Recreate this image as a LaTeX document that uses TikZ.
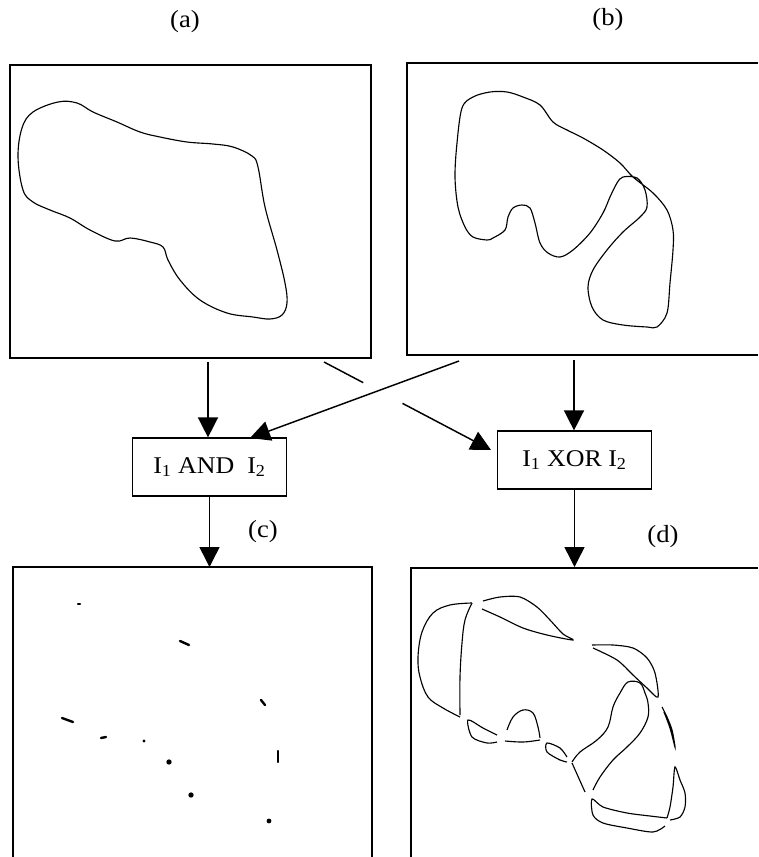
\documentclass[tikz,border=0pt]{standalone}
\usepackage{fontspec}
\setmainfont{Liberation Serif}[FakeStretch=1.08]
\usetikzlibrary{arrows.meta,positioning,calc}

\begin{document}
\begin{tikzpicture}[
        x=0.75pt, y=-0.75pt,
        frame/.style={line width=0.9pt},
        contour/.style={line width=0.85pt},
        opbox/.style={draw, rectangle, line width=0.9pt, minimum width=116pt, minimum height=43.5pt, inner sep=0pt, font=\fontsize{18}{21}\selectfont},
        tag/.style={inner sep=0pt, font=\fontsize{18.5}{21}\selectfont},
        arrow/.style={-{Triangle[length=15pt,width=15pt]}, line width=1.1pt},
        blob/.style={line width=1.8pt, line cap=round}
    ]
        \useasboundingbox (0,0) rectangle (758,857);

        % Bilder (a) und (b)
        \node[tag] (ta) at (185,22) {(a)};
        \node[tag] (tb) at (608,20) {(b)};
        \draw[frame] (10,65) rectangle (371,358);
        \draw[frame] (758,63) -- (407,63) -- (407,355) -- (758,355);

        % Kontur I1
        \draw[contour] plot[smooth cycle, tension=0.6] coordinates {
            (58,102) (33,112) (22,128) (18,157) (23,190) (33,202) (50,210) (70,218)
            (90,230) (115,241) (130,238) (150,242) (163,247) (168,260) (180,280)
            (200,300) (227,313) (253,317) (270,319) (282,315) (287,303) (285,283)
            (277,250) (265,207) (258,167) (252,156) (233,147) (213,144) (187,142)
            (160,137) (140,132) (117,122) (93,112) (77,103)};

        % Kontur I2
        \draw[contour] plot[smooth cycle, tension=0.55] coordinates {
            (507,92) (523,97) (540,105) (553,122) (567,130) (583,138) (603,150)
            (620,163) (633,177) (653,193) (667,210) (673,230) (673,250) (670,283)
            (667,313) (657,327) (647,327) (623,325) (603,320) (592,307) (588,287)
            (593,270) (607,250) (623,232) (640,217) (647,207) (645,190) (637,178)
            (623,177) (617,183) (610,197) (603,213) (590,233) (573,250) (560,257)
            (548,253) (540,243) (535,223) (530,208) (522,205) (513,208) (508,217)
            (505,230) (493,238) (487,240) (473,237) (465,227) (458,207) (455,177)
            (457,143) (462,108) (473,97) (490,92)};

        % Operatoren
        \node[opbox] (and) at (209.5,467) {I\textsubscript{1} AND\ \ I\textsubscript{2}};
        \node[opbox] (xor) at (574.5,460) {I\textsubscript{1} XOR I\textsubscript{2}};

        % Anschlusspunkte
        \coordinate (a-out) at (208,362);
        \coordinate (a-x) at (324,362);
        \coordinate (b-out) at (574,360);
        \coordinate (b-x) at (459,361);
        \coordinate (and-in) at (250,438);
        \coordinate (xor-in) at (491,450);
        \coordinate (c-in) at (209.5,567);
        \coordinate (d-in) at (574.5,567);

        % Pfeile
        \draw[arrow] (a-out) -- (a-out |- and.north);
        \draw[arrow] (b-out) -- (b-out |- xor.north);
        \draw[arrow] (b-x) -- (and-in);
        \draw[line width=1.1pt] (a-x) -- ($(a-x)!0.235!(xor-in)$);
        \draw[arrow] ($(a-x)!0.47!(xor-in)$) -- (xor-in);
        \draw[arrow] (and.south) -- (c-in);
        \draw[arrow] (xor.south) -- (d-in);

        % Bilder (c) und (d)
        \node[tag] (tc) at (263,532) {(c)};
        \node[tag] (td) at (663,537) {(d)};
        \draw[frame] (13,857) -- (13,567) -- (372,567) -- (372,857);
        \draw[frame] (411,857) -- (411,568) -- (758,568);

        % Ergebnis AND
        \draw[blob] (78,604) -- (80,604);
        \draw[blob] (180,641) -- (189,645);
        \draw[blob] (261,700) -- (265,705);
        \draw[blob] (62,718) -- (73,722);
        \draw[blob] (101,738) -- (106,737);
        \draw[blob] (278,751) -- (278,762);
        \fill (144,741) circle (1.2pt);
        \fill (169,762) circle (2pt);
        \fill (191,795) circle (2pt);
        \fill (269,821) circle (1.8pt);

        % Ergebnis XOR
        \draw[contour] plot[smooth, tension=0.6] coordinates {
            (472,603) (450,605) (433,613) (422,632) (418,657) (420,677) (428,697) (443,708) (460,717)};
        \draw[contour] plot[smooth, tension=0.6] coordinates {
            (472,603) (465,620) (462,643) (460,677) (460,715)};
        \draw[contour] plot[smooth, tension=0.5] coordinates {
            (482,609) (500,617) (523,628) (547,635) (573,640) (563,634) (550,620)
            (537,607) (520,597) (500,597) (483,601)};
        \draw[contour] plot[smooth, tension=0.5] coordinates {
            (592,645) (613,645) (633,648) (647,658) (655,673) (658,697) (647,688)
            (633,675) (617,660) (593,648)};
        \draw[contour] plot[smooth, tension=0.6] coordinates {
            (572,762) (580,752) (597,740) (608,727) (613,707) (620,693) (628,682)
            (640,683) (645,693) (648,703) (648,717) (640,733) (627,747) (613,760)
            (600,777) (593,790)};
        \draw[contour] (572,763) -- (585,792);
        \draw[contour] plot[smooth, tension=0.5] coordinates {
            (662,707) (667,717) (672,730) (675,747) (670,728) (664,712)};
        \draw[contour] plot[smooth, tension=0.5] coordinates {
            (670,820) (680,817) (685,807) (685,793) (680,780) (675,767) (673,787)
            (670,807) (667,818)};
        \draw[contour] plot[smooth, tension=0.5] coordinates {
            (667,818) (650,816) (627,813) (603,807) (592,799) (593,815) (603,823)
            (627,828) (653,832) (665,826)};
        \draw[contour] plot[smooth, tension=0.6] coordinates {
            (507,730) (513,717) (523,710) (533,713) (538,727) (540,738)};
        \draw[contour] plot[smooth, tension=0.6] coordinates {
            (505,741) (523,742) (540,740)};
        \draw[contour] plot[smooth, tension=0.5] coordinates {
            (497,735) (483,728) (468,720) (472,737) (487,743) (497,742)};
        \draw[contour] plot[smooth, tension=0.5] coordinates {
            (567,757) (560,748) (547,743) (547,752) (560,760) (567,762)};
    \end{tikzpicture}
\end{document}
